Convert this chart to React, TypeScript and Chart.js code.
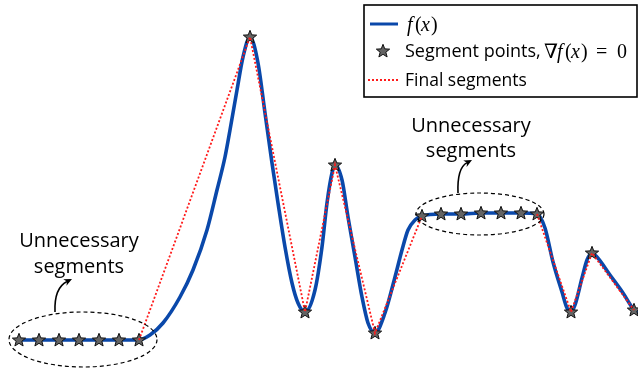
import React, { useEffect, useRef } from 'react';
import { Chart, registerables } from 'chart.js';
Chart.register(...registerables);

const curveX = [19, 40, 60, 80, 100, 120, 138, 150, 163, 180, 193, 207, 217, 225, 230, 237, 243, 250, 258, 265, 272, 278, 285, 292, 298, 305, 315, 322, 327, 332, 335, 342, 348, 355, 362, 368, 375, 385, 395, 402, 408, 415, 422, 441, 461, 481, 501, 521, 537, 545, 553, 562, 567, 571, 575, 582, 587, 592, 597, 610, 623, 634, 638];
const curveF = [29, 29, 29, 29, 29, 29, 29, 34, 46, 72, 99, 139, 179, 212, 239, 279, 312, 332, 306, 256, 206, 166, 122, 86, 66, 57, 79, 122, 166, 196, 204, 189, 152, 112, 72, 46, 36, 56, 92, 119, 139, 149, 153, 155, 155, 156, 156, 156, 155, 141, 107, 77, 61, 57, 64, 91, 109, 116, 112, 94, 76, 59, 56];

// segment points where gradient is zero
const starX = [19, 39, 59, 79, 99, 119, 139, 250, 305, 335, 375, 422, 441, 461, 481, 501, 521, 537, 571, 592, 634];
const starF = [29, 29, 29, 29, 29, 29, 29, 332, 57, 204, 36, 153, 155, 155, 156, 156, 156, 155, 57, 116, 59];

// final segments (null = removed)
const segX = [139, 250, 305, 335, 375, 422, 480, 537, 571, 592, 634];
const segF: (number | null)[] = [29, 332, 57, 204, 36, 153, null, 155, 57, 116, 59];

const legendLabels = ['f(x)', 'Segment points, ∇f(x) = 0', 'Final segments'];
const annotationText = ['Unnecessary', 'segments'];

const BLUE = '#0a48aa';
const RED = '#ff1a1a';
const SANS = '"Open Sans", "Noto Sans", sans-serif';
const SERIF = '"Liberation Serif", "DejaVu Serif", serif';

function makeStar(): HTMLCanvasElement {
  const c = document.createElement('canvas');
  c.width = 16; c.height = 16;
  const g = c.getContext('2d')!;
  const cx = 8, cy = 8.3, ro = 7, ri = 3.0;
  g.beginPath();
  for (let i = 0; i < 10; i++) {
    const r = i % 2 === 0 ? ro : ri;
    const a = -Math.PI / 2 + (i * Math.PI) / 5;
    const px = cx + r * Math.cos(a), py = cy + r * Math.sin(a);
    if (i === 0) g.moveTo(px, py); else g.lineTo(px, py);
  }
  g.closePath();
  g.fillStyle = '#636363';
  g.fill();
  g.lineWidth = 1;
  g.strokeStyle = '#111';
  g.stroke();
  return c;
}

type Glyph = [string, number, boolean]; // text, x, italic
function drawMath(ctx: CanvasRenderingContext2D, glyphs: Glyph[], y: number) {
  for (const [t, x, it] of glyphs) {
    ctx.font = `${it ? 'italic ' : ''}20px ${SERIF}`;
    ctx.fillText(t, x, y);
  }
}

function arrow(ctx: CanvasRenderingContext2D, sx: number, sy: number, qx: number, qy: number, ex: number, ey: number) {
  ctx.save();
  ctx.setLineDash([]);
  ctx.strokeStyle = '#000';
  ctx.fillStyle = '#000';
  ctx.lineWidth = 1.6;
  const ang = Math.atan2(ey - qy, ex - qx);
  const hl = 8, hw = 3.6;
  const bx = ex - hl * 0.7 * Math.cos(ang), by = ey - hl * 0.7 * Math.sin(ang);
  ctx.beginPath();
  ctx.moveTo(sx, sy);
  ctx.quadraticCurveTo(qx, qy, bx, by);
  ctx.stroke();
  ctx.beginPath();
  ctx.moveTo(ex, ey);
  ctx.lineTo(ex - hl * Math.cos(ang) + hw * Math.sin(ang), ey - hl * Math.sin(ang) - hw * Math.cos(ang));
  ctx.lineTo(ex - hl * 0.7 * Math.cos(ang), ey - hl * 0.7 * Math.sin(ang));
  ctx.lineTo(ex - hl * Math.cos(ang) - hw * Math.sin(ang), ey - hl * Math.sin(ang) + hw * Math.cos(ang));
  ctx.closePath();
  ctx.fill();
  ctx.restore();
}

export default function App() {
  const ref = useRef<HTMLCanvasElement>(null);
  useEffect(() => {
    document.body.style.margin = '0';
    const star = makeStar();
    const overlay = {
      id: 'overlay',
      afterDatasetsDraw(chart: any) {
        const ctx: CanvasRenderingContext2D = chart.ctx;
        const xs = chart.scales.x, ys = chart.scales.y;
        const X = (v: number) => xs.getPixelForValue(v);
        const Y = (v: number) => ys.getPixelForValue(v);
        ctx.save();
        ctx.setLineDash([4, 3]);
        ctx.lineWidth = 1.2;
        ctx.strokeStyle = '#000';
        ctx.beginPath();
        ctx.ellipse(X(83), Y(29.5), 74, 27.5, 0, 0, Math.PI * 2);
        ctx.stroke();
        ctx.beginPath();
        ctx.ellipse(X(480), Y(155), 64, 21, 0, 0, Math.PI * 2);
        ctx.stroke();
        arrow(ctx, 55, 312, 54, 288, 72, 279);
        arrow(ctx, 458, 193, 457, 168, 472, 160);
        ctx.fillStyle = '#000';
        ctx.font = `20px ${SANS}`;
        ctx.textAlign = 'center';
        ctx.textBaseline = 'alphabetic';
        ctx.fillText(annotationText[0], 79, 247);
        ctx.fillText(annotationText[1], 79, 273);
        ctx.fillText(annotationText[0], 471, 132);
        ctx.fillText(annotationText[1], 471, 157);
        ctx.restore();
      },
      afterDraw(chart: any) {
        const ctx: CanvasRenderingContext2D = chart.ctx;
        ctx.save();
        ctx.fillStyle = '#fff';
        ctx.fillRect(364, 5, 273, 92);
        ctx.strokeStyle = '#000';
        ctx.lineWidth = 1.6;
        ctx.strokeRect(364, 5, 273, 92);
        ctx.strokeStyle = BLUE;
        ctx.lineWidth = 3;
        ctx.beginPath(); ctx.moveTo(370, 24); ctx.lineTo(398, 24); ctx.stroke();
        ctx.drawImage(star, 383 - 8, 51 - 8);
        ctx.strokeStyle = RED;
        ctx.lineWidth = 1.8;
        ctx.setLineDash([2, 2]);
        ctx.beginPath(); ctx.moveTo(368, 80); ctx.lineTo(399, 80); ctx.stroke();
        ctx.setLineDash([]);
        ctx.fillStyle = '#000';
        ctx.textAlign = 'left';
        ctx.textBaseline = 'alphabetic';
        drawMath(ctx, [['f', 407, true], ['(', 415, false], ['x', 421, true], [')', 431, false]], 31);
        ctx.font = `18px ${SANS}`;
        ctx.fillText('Segment points,', 405, 57);
        drawMath(ctx, [['∇', 544, false], ['f', 557, true], ['(', 565, false], ['x', 571, true], [')', 581, false], ['=', 596, false], ['0', 617, false]], 58);
        ctx.font = `17.5px ${SANS}`;
        ctx.fillText(legendLabels[2], 405, 86);
        ctx.restore();
      },
    };

    const chart = new Chart(ref.current!, {
      type: 'line',
      data: {
        datasets: [
          {
            label: legendLabels[2],
            data: segX.map((x, i) => ({ x, y: segF[i] })),
            borderColor: RED,
            borderWidth: 1.8,
            borderDash: [2, 2],
            pointRadius: 0,
            spanGaps: false,
            tension: 0,
            order: 0,
          } as any,
          {
            label: legendLabels[1],
            data: starX.map((x, i) => ({ x, y: starF[i] })),
            showLine: false,
            pointStyle: star,
            pointRadius: 7,
            order: 1,
          } as any,
          {
            label: legendLabels[0],
            data: curveX.map((x, i) => ({ x, y: curveF[i] })),
            borderColor: BLUE,
            borderWidth: 3.6,
            pointRadius: 0,
            cubicInterpolationMode: 'monotone',
            order: 2,
          } as any,
        ],
      },
      options: {
        animation: false,
        responsive: false,
        events: [],
        layout: { padding: 0, autoPadding: false },
        plugins: { legend: { display: false }, tooltip: { enabled: false } },
        scales: {
          x: { type: 'linear', display: false, min: 0, max: 638 },
          y: { type: 'linear', display: false, min: 0, max: 369 },
        },
      },
      plugins: [overlay],
    });
    return () => chart.destroy();
  }, []);
  return (
    <div style={{ position: 'absolute', left: 0, top: 0, width: 638, height: 369, background: '#fff' }}>
      <canvas ref={ref} width={638} height={369} style={{ display: 'block' }} />
    </div>
  );
}
